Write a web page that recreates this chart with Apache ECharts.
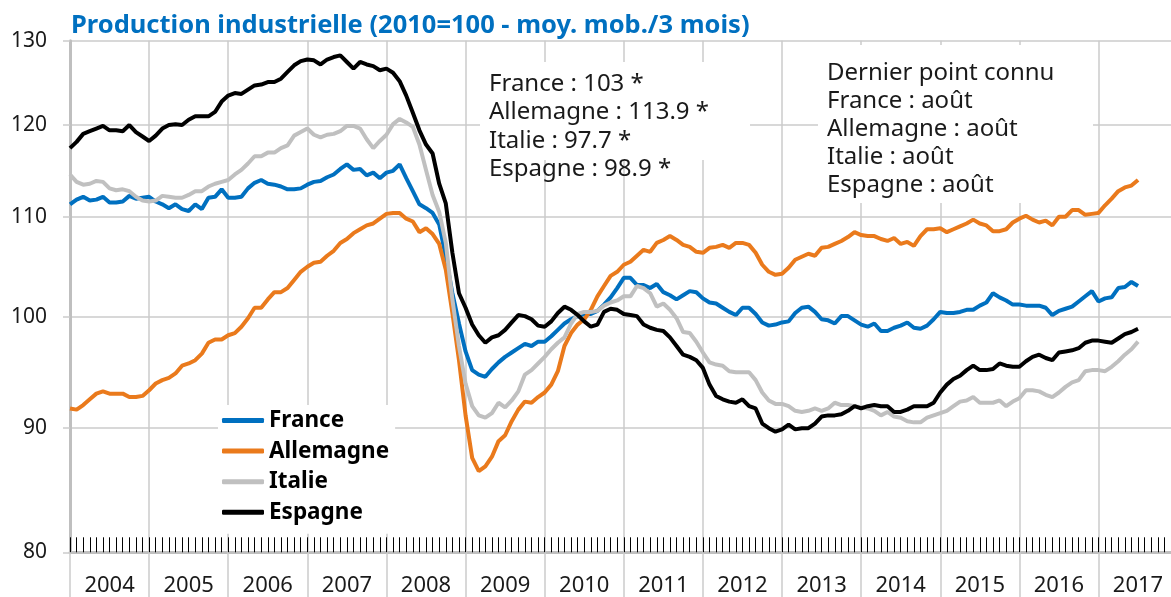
<!DOCTYPE html>
<html>
<head>
<meta charset="utf-8">
<script src="https://cdn.jsdelivr.net/npm/echarts@6/dist/echarts.min.js"></script>
<style>
    html, body { margin: 0; padding: 0; background: #fff; }
    #chart { width: 1171px; height: 597px; }
</style>
</head>
<body>
<div id="chart"></div>
<script>
// axe des temps : un point par mois à partir de janvier 2004
const years = ['2004', '2005', '2006', '2007', '2008', '2009', '2010',
    '2011', '2012', '2013', '2014', '2015', '2016', '2017'];
const months = [];
years.forEach(y => {
    for (let m = 1; m <= 12; m++) months.push(y + '-' + String(m).padStart(2, '0'));
});

const yTicks = [80, 90, 100, 110, 120, 130];

const seriesNames = ['France', 'Allemagne', 'Italie', 'Espagne'];

const france = [
    111.3, 111.8, 112.1, 111.7, 111.8, 112.1, 111.5, 111.5, 111.6, 112.2, 111.9, 112.0,
    112.1, 111.6, 111.3, 110.9, 111.3, 110.8, 110.6, 111.3, 110.8, 112.0, 112.1, 112.9,
    112.0, 112.0, 112.1, 113.0, 113.6, 113.9, 113.5, 113.4, 113.2, 112.9, 112.9, 113.0,
    113.4, 113.7, 113.8, 114.2, 114.5, 115.1, 115.6, 115.0, 115.1, 114.4, 114.7, 114.1,
    114.7, 114.9, 115.6, 114.1, 112.7, 111.3, 110.9, 110.4, 109.2, 105.9, 102.3, 99.4,
    96.8, 95.1, 94.7, 94.5, 95.2, 95.8, 96.3, 96.7, 97.1, 97.5, 97.3, 97.7,
    97.7, 98.2, 98.8, 99.4, 99.8, 100.1, 100.3, 100.3, 100.6, 101.2, 101.9, 102.8,
    103.8, 103.8, 103.1, 103.1, 102.8, 103.2, 102.4, 102.1, 101.7, 102.1, 102.5, 102.4,
    101.8, 101.4, 101.3, 100.9, 100.5, 100.2, 100.9, 100.9, 100.3, 99.5, 99.2, 99.3,
    99.5, 99.6, 100.4, 100.9, 101.0, 100.5, 99.8, 99.7, 99.4, 100.1, 100.1, 99.7,
    99.3, 99.1, 99.4, 98.7, 98.7, 99.0, 99.2, 99.5, 99.0, 98.9, 99.2, 99.8,
    100.5, 100.4, 100.4, 100.5, 100.7, 100.7, 101.1, 101.4, 102.3, 101.9, 101.6, 101.2,
    101.2, 101.1, 101.1, 101.1, 100.9, 100.2, 100.6, 100.8, 101.0, 101.5, 102.0, 102.5,
    101.5, 101.8, 101.9, 102.8, 102.9, 103.4, 103.0
];

const allemagne = [
    91.7, 91.6, 92.0, 92.5, 93.0, 93.2, 93.0, 93.0, 93.0, 92.7, 92.7, 92.8,
    93.3, 93.9, 94.2, 94.4, 94.8, 95.5, 95.7, 96.0, 96.6, 97.6, 97.9, 97.9,
    98.3, 98.5, 99.1, 99.9, 100.9, 100.9, 101.7, 102.4, 102.4, 102.8, 103.6, 104.4,
    104.9, 105.3, 105.4, 106.0, 106.5, 107.3, 107.7, 108.3, 108.7, 109.1, 109.3, 109.8,
    110.3, 110.4, 110.4, 109.8, 109.5, 108.4, 108.8, 108.2, 107.2, 104.6, 100.4, 96.0,
    91.1, 87.5, 86.4, 86.8, 87.6, 88.9, 89.4, 90.6, 91.6, 92.3, 92.2, 92.7,
    93.1, 93.8, 95.0, 97.3, 98.5, 99.3, 99.8, 100.7, 102.0, 103.0, 104.0, 104.4,
    105.1, 105.4, 106.0, 106.6, 106.4, 107.3, 107.6, 108.0, 107.6, 107.1, 106.9, 106.4,
    106.3, 106.8, 106.9, 107.1, 106.8, 107.3, 107.3, 107.1, 106.3, 105.1, 104.4, 104.1,
    104.2, 104.8, 105.6, 105.9, 106.2, 106.0, 106.8, 106.9, 107.2, 107.5, 107.9, 108.4,
    108.1, 108.0, 108.0, 107.7, 107.5, 107.8, 107.2, 107.4, 107.0, 108.0, 108.7, 108.7,
    108.8, 108.4, 108.7, 109.0, 109.3, 109.7, 109.3, 109.1, 108.5, 108.5, 108.7, 109.4,
    109.8, 110.1, 109.7, 109.4, 109.6, 109.1, 110.0, 110.0, 110.7, 110.7, 110.2, 110.3,
    110.4, 111.2, 111.9, 112.7, 113.1, 113.3, 113.9
];

const italie = [
    114.5, 113.7, 113.4, 113.5, 113.8, 113.7, 113.0, 112.8, 112.9, 112.7, 112.1, 111.7,
    111.6, 111.7, 112.2, 112.1, 112.0, 112.0, 112.3, 112.7, 112.7, 113.2, 113.5, 113.7,
    113.9, 114.5, 115.0, 115.7, 116.5, 116.5, 116.9, 116.9, 117.4, 117.7, 118.8, 119.2,
    119.6, 118.9, 118.6, 118.9, 119.0, 119.3, 119.9, 119.9, 119.6, 118.4, 117.4, 118.2,
    118.9, 120.1, 120.7, 120.3, 119.8, 117.8, 115.0, 112.3, 110.5, 107.3, 101.7, 97.3,
    93.9, 91.9, 91.1, 90.9, 91.3, 92.2, 91.8, 92.4, 93.2, 94.7, 95.1, 95.7,
    96.3, 97.0, 97.6, 98.1, 99.4, 100.3, 100.5, 100.5, 100.6, 101.1, 101.4, 101.6,
    102.0, 102.0, 103.0, 102.8, 102.3, 101.0, 101.3, 100.7, 99.9, 98.6, 98.5, 97.7,
    96.7, 95.8, 95.6, 95.5, 95.0, 94.9, 94.9, 94.9, 94.2, 93.1, 92.4, 92.1,
    92.1, 91.9, 91.5, 91.4, 91.5, 91.7, 91.5, 91.7, 92.2, 92.0, 92.0, 91.9,
    91.8, 91.7, 91.5, 91.1, 91.4, 91.0, 90.9, 90.6, 90.5, 90.5, 90.9, 91.1,
    91.3, 91.5, 91.9, 92.3, 92.4, 92.7, 92.2, 92.2, 92.2, 92.4, 91.9, 92.3,
    92.6, 93.3, 93.3, 93.2, 92.9, 92.7, 93.1, 93.6, 94.0, 94.2, 95.0, 95.1,
    95.1, 95.0, 95.4, 95.9, 96.5, 97.0, 97.7
];

const espagne = [
    117.4, 118.1, 119.0, 119.3, 119.6, 119.9, 119.4, 119.4, 119.3, 120.0, 119.2, 118.7,
    118.2, 118.8, 119.6, 120.0, 120.1, 120.0, 120.6, 121.0, 121.0, 121.0, 121.5, 122.7,
    123.4, 123.7, 123.6, 124.1, 124.6, 124.7, 125.0, 125.0, 125.4, 126.2, 127.0, 127.5,
    127.7, 127.6, 127.1, 127.7, 128.0, 128.2, 127.4, 126.6, 127.4, 127.1, 126.9, 126.4,
    126.6, 126.1, 125.1, 123.4, 121.4, 119.4, 117.8, 116.8, 113.5, 111.4, 106.3, 102.3,
    100.9, 99.3, 98.3, 97.6, 98.1, 98.3, 98.8, 99.5, 100.2, 100.1, 99.8, 99.2,
    99.1, 99.6, 100.4, 101.0, 100.7, 100.2, 99.6, 99.1, 99.3, 100.5, 100.8, 100.7,
    100.3, 100.2, 100.1, 99.3, 99.0, 98.8, 98.7, 98.1, 97.3, 96.5, 96.3, 96.0,
    95.3, 93.8, 92.8, 92.5, 92.3, 92.2, 92.5, 91.9, 91.7, 90.4, 90.0, 89.7,
    89.9, 90.3, 89.9, 90.0, 90.0, 90.4, 91.0, 91.1, 91.1, 91.2, 91.5, 91.9,
    91.7, 91.9, 92.0, 91.9, 91.9, 91.4, 91.4, 91.6, 91.9, 91.9, 91.9, 92.2,
    93.1, 93.8, 94.3, 94.6, 95.1, 95.5, 95.1, 95.1, 95.2, 95.7, 95.5, 95.4,
    95.4, 95.9, 96.3, 96.5, 96.2, 96.0, 96.7, 96.8, 96.9, 97.1, 97.6, 97.8,
    97.8, 97.7, 97.6, 98.0, 98.4, 98.6, 98.9
];

const lastValueLines = ['France : 103 *', 'Allemagne : 113.9 *', 'Italie : 97.7 *', 'Espagne : 98.9 *'];
const lastPointLines = ['Dernier point connu', 'France : août', 'Allemagne : août', 'Italie : août', 'Espagne : août'];

const colors = {
    france: '#0070c0',
    allemagne: '#ea7a1c',
    italie: '#c0c0c0',
    espagne: '#000000',
    grid: '#cbcbcb',
    axis: '#bfbfbf',
    text: '#1a1a1a',
};

const FONT = '"Noto Sans", "Open Sans", sans-serif';

const chart = echarts.init(document.getElementById('chart'));

function lineSeries(name, data, color) {
    return {
        name: name,
        type: 'line',
        data: data,
        xAxisIndex: 0,
        symbol: 'none',
        showSymbol: false,
        lineStyle: { color: color, width: 4 },
        itemStyle: { color: color },
        emphasis: { disabled: true },
    };
}

const option = {
    animation: false,
    backgroundColor: '#fff',
    title: {
        text: 'Production industrielle (2010=100 - moy. mob./3 mois)',
        left: 71,
        top: 13,
        padding: 0,
        textStyle: {
            color: colors.france,
            fontFamily: FONT,
            fontSize: 25.5,
            fontWeight: 'bold',
        },
    },
    legend: {
        orient: 'vertical',
        left: 218,
        top: 405,
        padding: [4, 6, 10, 4],
        backgroundColor: '#fff',
        itemWidth: 42,
        itemHeight: 5,
        itemGap: 7.6,
        icon: 'roundRect',
        data: seriesNames,
        textStyle: {
            fontFamily: FONT,
            fontSize: 22.5,
            lineHeight: 22,
            fontWeight: 'bold',
            color: '#000',
        },
    },
    grid: {
        left: 70,
        right: -3,
        top: 40.7,
        bottom: 44.7,
        containLabel: false,
    },
    xAxis: [
        {
            // graduations mensuelles + séparations annuelles
            type: 'category',
            position: 'bottom',
            data: months,
            boundaryGap: false,
            axisLine: { lineStyle: { color: colors.axis, width: 3 } },
            axisTick: { inside: true, length: 15, interval: 0, lineStyle: { color: '#000', width: 1 } },
            axisLabel: { show: false },
            splitLine: { show: true, interval: 11, lineStyle: { color: colors.grid, width: 1.5 } },
        },
        {
            // traits annuels sous l'axe + libellés des années
            type: 'category',
            position: 'bottom',
            offset: 0,
            data: months,
            boundaryGap: false,
            axisLine: { show: false },
            axisTick: { show: true, length: 45, interval: 11, lineStyle: { color: colors.grid, width: 1.5 } },
            axisLabel: {
                interval: (index) => index % 12 === 6,
                formatter: (v) => v.slice(0, 4),
                margin: 22,
                fontFamily: FONT,
                fontSize: 22,
                color: colors.text,
            },
            splitLine: { show: false },
        },
    ],
    yAxis: {
        type: 'log',
        logBase: 10,
        min: 80,
        max: 130,
        axisLine: { show: true, lineStyle: { color: colors.axis, width: 3 } },
        axisTick: { show: true, length: 7, customValues: yTicks, lineStyle: { color: colors.grid, width: 1.5 } },
        axisLabel: {
            customValues: yTicks,
            margin: 23,
            fontFamily: FONT,
            fontSize: 21,
            color: colors.text,
        },
        splitLine: { show: true, lineStyle: { color: colors.grid, width: 1.5 } },
    },
    graphic: [
        { type: 'rect', z: 50, shape: { x: 480, y: 62, width: 270, height: 98 }, style: { fill: '#fff' } },
        {
            type: 'text', z: 51, left: 489, top: 70,
            style: { text: lastValueLines.join('\n'), font: '24px ' + FONT, fill: colors.text, lineHeight: 28.3 },
        },
        { type: 'rect', z: 50, shape: { x: 818, y: 45, width: 275, height: 158 }, style: { fill: '#fff' } },
        {
            type: 'text', z: 51, left: 827, top: 59,
            style: { text: lastPointLines.join('\n'), font: '24px ' + FONT, fill: colors.text, lineHeight: 28 },
        },
    ],
    series: [
        lineSeries('France', france, colors.france),
        lineSeries('Allemagne', allemagne, colors.allemagne),
        lineSeries('Italie', italie, colors.italie),
        lineSeries('Espagne', espagne, colors.espagne),
    ],
};

chart.setOption(option);
</script>
</body>
</html>
